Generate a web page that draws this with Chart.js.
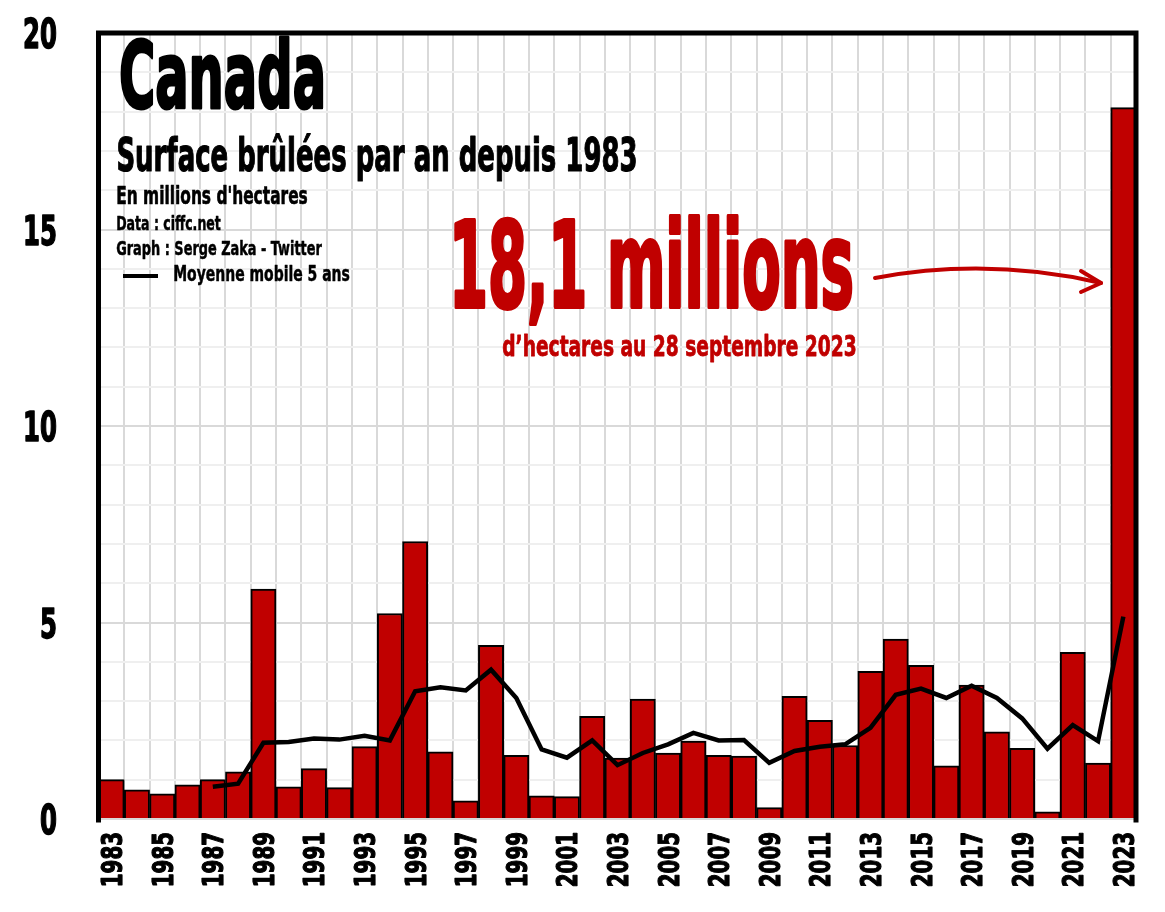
<!DOCTYPE html>
<html>
<head>
<meta charset="utf-8">
<script src="https://cdn.jsdelivr.net/npm/chart.js@4"></script>
<style>
  html, body { margin: 0; padding: 0; background: #fff; }
  #wrap { width: 1165px; height: 912px; position: relative; }
</style>
</head>
<body>
<div id="wrap"><canvas id="chart"></canvas></div>
<script>
const FONT = "'Liberation Sans Narrow', 'DejaVu Sans Condensed', Roboto, sans-serif";
const RED = "#c00000";

// Canada, surface brulee par an (millions d'hectares)
const years = [
  1983, 1984, 1985, 1986, 1987, 1988, 1989, 1990, 1991, 1992,
  1993, 1994, 1995, 1996, 1997, 1998, 1999, 2000, 2001, 2002,
  2003, 2004, 2005, 2006, 2007, 2008, 2009, 2010, 2011, 2012,
  2013, 2014, 2015, 2016, 2017, 2018, 2019, 2020, 2021, 2022,
  2023
];
const burned = [
  1.00, 0.74, 0.64, 0.87, 1.00, 1.20, 5.85, 0.82, 1.28, 0.80,
  1.84, 5.23, 7.06, 1.71, 0.46, 4.42, 1.62, 0.59, 0.57, 2.61,
  1.55, 3.05, 1.68, 1.98, 1.62, 1.60, 0.29, 3.12, 2.51, 1.87,
  3.76, 4.58, 3.91, 1.35, 3.41, 2.22, 1.80, 0.18, 4.24, 1.42,
  18.1
];
// moyenne mobile 5 ans (rien avant 1987)
const movingAvg = [
  null, null, null, null, 0.82, 0.90, 1.94, 1.96, 2.05, 2.02,
  2.12, 2.00, 3.25, 3.35, 3.27, 3.80, 3.08, 1.77, 1.56, 2.00,
  1.37, 1.68, 1.90, 2.19, 2.00, 2.01, 1.43, 1.73, 1.84, 1.90,
  2.32, 3.16, 3.32, 3.08, 3.39, 3.08, 2.56, 1.79, 2.39, 1.98,
  5.15
];
const yTickLabels = [0, 5, 10, 15, 20];
const xTickLabels = years.filter((y) => (y - 1983) % 2 === 0);

// texte compresse horizontalement (pas de police condensee dispo)
// heavy = epaisseur de contour ajoutee pour faire plus gras
function condText(ctx, text, x, y, size, sx, color, align, heavy) {
  ctx.save();
  ctx.font = `bold ${size}px ${FONT}`;
  ctx.fillStyle = color;
  ctx.textBaseline = "alphabetic";
  ctx.textAlign = align || "left";
  ctx.translate(x, y);
  ctx.scale(sx, 1);
  ctx.fillText(text, 0, 0);
  if (heavy) {
    ctx.strokeStyle = color;
    ctx.lineWidth = heavy;
    ctx.lineJoin = "round";
    ctx.strokeText(text, 0, 0);
  }
  ctx.restore();
}

// meme chose mais on impose la largeur finale
function fitText(ctx, text, x, y, size, width, color, heavy) {
  ctx.save();
  ctx.font = `bold ${size}px ${FONT}`;
  const w = ctx.measureText(text).width + (heavy || 0);
  ctx.restore();
  const sx = width / w;
  condText(ctx, text, x + (heavy || 0) * sx / 2, y, size, sx, color, "left", heavy);
}

const decor = {
  id: "decor",
  afterDraw(chart) {
    const { ctx, chartArea: a } = chart;
    const xs = chart.scales.x;
    const ys = chart.scales.y;

    // cadre noir gauche / haut / droite
    ctx.save();
    ctx.strokeStyle = "#000";
    ctx.lineWidth = 5;
    ctx.lineCap = "square";
    ctx.beginPath();
    ctx.moveTo(a.left - 0.5, a.bottom + 1);
    ctx.lineTo(a.left - 0.5, a.top);
    ctx.lineTo(a.right, a.top);
    ctx.lineTo(a.right, a.bottom + 1);
    ctx.stroke();
    ctx.restore();

    // etiquettes des axes
    ys.ticks.forEach((t) => {
      if (!yTickLabels.includes(t.value)) return;
      condText(ctx, String(t.value), 57, ys.getPixelForValue(t.value) + 15, 41, 0.66, "#000", "right", 1.5);
    });
    xTickLabels.forEach((yr) => {
      const px = xs.getPixelForValue(years.indexOf(yr));
      ctx.save();
      ctx.translate(px, a.bottom + 13);
      ctx.rotate(-Math.PI / 2);
      condText(ctx, String(yr), 0, 10.5, 29, 0.76, "#000", "right", 1.2);
      ctx.restore();
    });

    fitText(ctx, "Canada", 118, 108, 92, 209, "#000", 3);
    fitText(ctx, "Surface brûlées par an depuis 1983", 116, 171, 46, 522, "#000", 1.2);
    fitText(ctx, "En millions d'hectares", 116, 204, 24, 192, "#000", 0.6);
    fitText(ctx, "Data : ciffc.net", 116, 230, 20, 105, "#000", 0.5);
    fitText(ctx, "Graph : Serge Zaka - Twitter", 116, 255, 20, 206, "#000", 0.5);
    fitText(ctx, "Moyenne mobile 5 ans", 173, 281, 22, 177, "#000", 0.5);

    // symbole legende
    ctx.save();
    ctx.strokeStyle = "#000";
    ctx.lineWidth = 4;
    ctx.beginPath();
    ctx.moveTo(123, 276);
    ctx.lineTo(158, 276);
    ctx.stroke();
    ctx.restore();

    fitText(ctx, "18,1 millions", 448, 307, 120, 407, RED, 4);
    fitText(ctx, "d\u2019hectares au 28 septembre 2023", 502, 356, 29, 355, RED, 0.8);

    // fleche vers 2023
    ctx.save();
    ctx.strokeStyle = RED;
    ctx.lineWidth = 4;
    ctx.lineCap = "round";
    ctx.lineJoin = "round";
    ctx.beginPath();
    ctx.moveTo(875, 278);
    ctx.quadraticCurveTo(988, 257, 1101, 283);
    ctx.stroke();
    ctx.beginPath();
    ctx.moveTo(1081, 271);
    ctx.lineTo(1101, 283);
    ctx.lineTo(1081, 292);
    ctx.stroke();
    ctx.restore();
  },
};

const chart = new Chart(document.getElementById("chart"), {
  data: {
    labels: years,
    datasets: [
      {
        type: "line",
        label: "Moyenne mobile 5 ans",
        data: movingAvg,
        borderColor: "#000",
        borderWidth: 4.5,
        pointRadius: 0,
        tension: 0,
        order: 0,
      },
      {
        type: "bar",
        label: "Surface brûlée",
        data: burned,
        backgroundColor: RED,
        borderColor: "#000",
        borderWidth: 2,
        categoryPercentage: 1,
        barPercentage: 1,
        order: 1,
      },
    ],
  },
  options: {
    responsive: true,
    maintainAspectRatio: false,
    animation: false,
    layout: { padding: { top: 33, right: 29, left: 0, bottom: 0 } },
    plugins: {
      legend: { display: false },
      tooltip: { enabled: false },
    },
    scales: {
      x: {
        offset: true,
        grid: { offset: true, color: "#d9d9d9", lineWidth: 2, drawTicks: false },
        border: { color: "#d9d9d9", width: 2 },
        ticks: {
          autoSkip: false,
          minRotation: 90,
          maxRotation: 90,
          padding: 12,
          color: "rgba(0,0,0,0)",
          font: { family: FONT, size: 29, weight: "bold" },
          callback: (v, i) => (xTickLabels.includes(years[i]) ? String(years[i]) : ""),
        },
        afterFit: (axis) => {
          axis.height = 93;
          axis.paddingLeft = 0;
          axis.paddingRight = 0;
        },
      },
      y: {
        min: 0,
        max: 20,
        grid: {
          color: (c) => (c.tick && c.tick.value % 5 === 0 ? "#d9d9d9" : "#efefef"),
          lineWidth: 2,
          drawTicks: false,
        },
        border: { display: false },
        ticks: {
          stepSize: 1,
          autoSkip: false,
          padding: 42,
          color: "rgba(0,0,0,0)",
          font: { family: FONT, size: 41, weight: "bold" },
          callback: (v) => (yTickLabels.includes(v) ? String(v) : ""),
        },
        afterFit: (axis) => {
          axis.width = 99;
          axis.paddingTop = 0;
          axis.paddingBottom = 0;
        },
      },
    },
  },
  plugins: [decor],
});
</script>
</body>
</html>
